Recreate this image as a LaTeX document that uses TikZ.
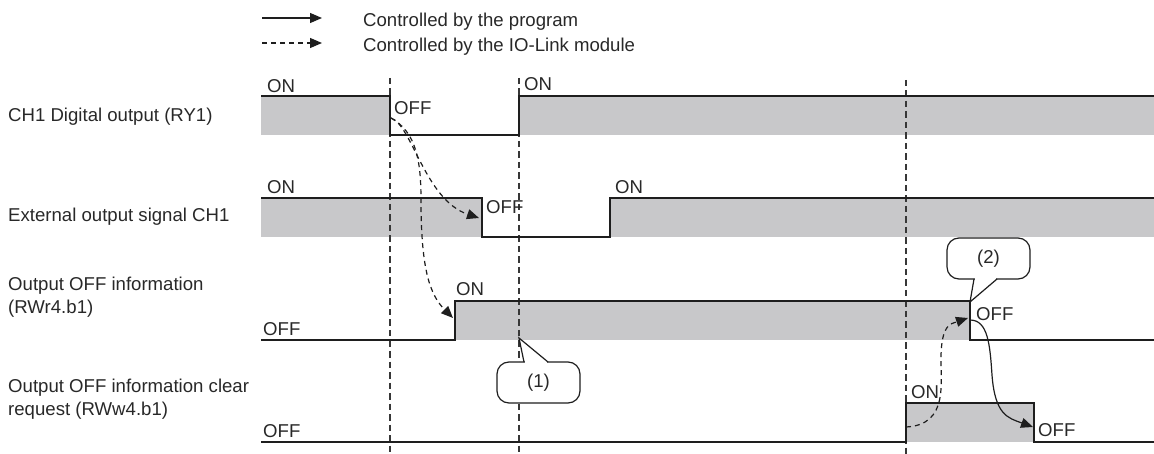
\documentclass[tikz,border=0pt]{standalone}
\usepackage{fontspec}
\setmainfont{Liberation Sans}
\usetikzlibrary{arrows.meta}
\definecolor{sig}{RGB}{30,30,30}
\definecolor{band}{RGB}{200,200,202}
\definecolor{guidec}{RGB}{55,55,55}
\definecolor{txt}{RGB}{40,40,40}
\begin{document}
\begin{tikzpicture}[x=1pt,y=-1pt,
  font=\fontsize{18.6}{22.3}\selectfont,
  every node/.style={inner sep=0pt,text=txt},
  lbl/.style={anchor=base west,align=left},
  sigline/.style={draw=sig,line width=1.4pt,line join=miter},
  bandfill/.style={fill=band},
  guideline/.style={draw=guidec,line width=1.5pt,dash pattern=on 6.5pt off 4pt},
  darr/.style={draw=sig,line width=1.2pt,dash pattern=on 5pt off 4pt,-{Triangle[length=12pt,width=10pt]}},
  sarr/.style={draw=sig,line width=1.2pt,-{Triangle[length=12pt,width=10pt]}},
  callout/.style={draw=sig,line width=1.2pt,fill=white,rounded corners=12pt,minimum width=83pt,minimum height=41pt}]
\useasboundingbox (0,0) rectangle (1154,454);

% legend
\coordinate (l1s) at (262,18); \coordinate (l1e) at (322,18);
\coordinate (l2s) at (262,43); \coordinate (l2e) at (322,43);
\draw[sarr] (l1s) -- (l1e);
\draw[darr] (l2s) -- (l2e);
\node[lbl] (leg1) at (363,27) {Controlled by the program};
\node[lbl] (leg2) at (363,52) {Controlled by the IO-Link module};

% row labels
\node[lbl] (r1) at (8,122) {CH1 Digital output (RY1)};
\node[lbl] (r2) at (8,222) {External output signal CH1};
\node[lbl] (r3) at (8,313) {Output OFF information\\(RWr4.b1)};
\node[lbl] (r4) at (8,415) {Output OFF information clear\\request (RWw4.b1)};

% gray bands
\fill[bandfill] (261,96) rectangle (390,135);
\fill[bandfill] (519,96) rectangle (1154,135);
\fill[bandfill] (261,198) rectangle (482,237);
\fill[bandfill] (610,198) rectangle (1154,237);
\fill[bandfill] (455,301) rectangle (970,340);
\fill[bandfill] (906,403) rectangle (1034,442);

% guide lines
\draw[guideline] (390,78) -- (390,454);
\draw[guideline] (519,78) -- (519,454);
\draw[guideline] (906,80) -- (906,454);

% signal lines
\draw[sigline] (261,96) -- (390,96) -- (390,135) -- (519,135) -- (519,96) -- (1154,96);
\draw[sigline] (261,198) -- (482,198) -- (482,237) -- (610,237) -- (610,198) -- (1154,198);
\draw[sigline] (261,340) -- (455,340) -- (455,301) -- (970,301) -- (970,340) -- (1154,340);
\draw[sigline] (261,442) -- (906,442) -- (906,403) -- (1034,403) -- (1034,442) -- (1154,442);

% state labels
\node[lbl] (s1a) at (267,92.5) {ON};
\node[lbl] (s1b) at (394,115) {OFF};
\node[lbl] (s1c) at (524,91) {ON};
\node[lbl] (s2a) at (267,194) {ON};
\node[lbl] (s2b) at (486,214) {OFF};
\node[lbl] (s2c) at (615,194) {ON};
\node[lbl] (s3a) at (263,336) {OFF};
\node[lbl] (s3b) at (456,296) {ON};
\node[lbl] (s3c) at (976,321) {OFF};
\node[lbl] (s4a) at (263,437) {OFF};
\node[lbl] (s4b) at (911,398) {ON};
\node[lbl] (s4c) at (1038,436) {OFF};

% arrows
\coordinate (a1s) at (391,118);
\coordinate (a1e) at (479,218);
\coordinate (a2e) at (453,318);
\coordinate (a3s) at (906,427);
\coordinate (a3e) at (968,318);
\coordinate (a4s) at (970,320);
\coordinate (a4e) at (1033,427);
\draw[darr] (a1s) .. controls (412,125) and (425,200) .. (a1e);
\draw[darr] (a1s) .. controls (416,132) and (421,160) .. (421,200) .. controls (421,270) and (430,295) .. (a2e);
\draw[darr] (a3s) .. controls (950,425) and (940,380) .. (941,355) .. controls (942,325) and (950,324) .. (a3e);
\draw[sarr] (a4s) .. controls (988,320) and (990,345) .. (992,375) .. controls (995,415) and (1008,418) .. (a4e);

% callouts
\node[callout] (c1) at (538.5,382.5) {(1)};
\coordinate (c1t) at (519,338);
\coordinate (c1l) at (524,362);
\coordinate (c1r) at (548,362);
\fill[white] (524.6,360.6) rectangle (547.4,363.6);
\draw[draw=sig,line width=1.2pt,line join=miter] (c1l) -- (c1t) -- (c1r);

\node[callout] (c2) at (988.5,258.5) {(2)};
\coordinate (c2t) at (970,302);
\coordinate (c2l) at (974,279);
\coordinate (c2r) at (997,279);
\fill[white] (974.6,277.4) rectangle (996.4,280.4);
\draw[draw=sig,line width=1.2pt,line join=miter] (c2l) -- (c2t) -- (c2r);
\end{tikzpicture}
\end{document}
